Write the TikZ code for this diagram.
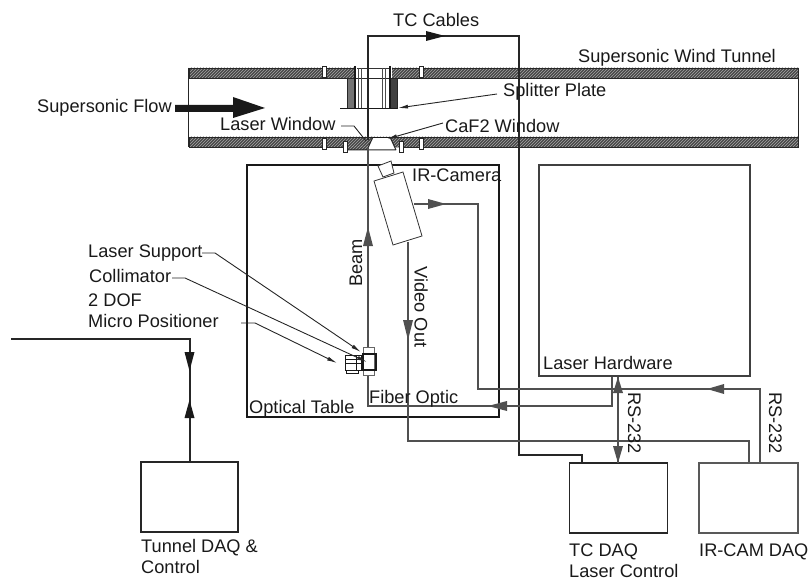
\documentclass[tikz,border=0pt]{standalone}
\usepackage{fontspec}
\setmainfont{Liberation Sans}
\usetikzlibrary{arrows.meta,patterns}
\definecolor{wire}{HTML}{505050}
\tikzset{
 x=1pt,y=-1pt,
 lbl/.style={inner sep=0pt,anchor=base west,font=\fontsize{18.2}{20}\selectfont,text=black!90},
 vlbl/.style={inner sep=0pt,rotate=-90,font=\fontsize{18.2}{20}\selectfont,text=black!90},
 boxk/.style={draw=black!75,line width=1.8pt,inner sep=0pt},
 wirel/.style={draw=wire,line width=2pt},
 darkwire/.style={draw=black!85,line width=2pt},
 wall/.style={draw=black!85,line width=.8pt,preaction={fill=black!72},pattern=north east lines,pattern color=black!35},
 bolt/.style={draw=black!85,fill=white,line width=.8pt,minimum width=4pt,minimum height=11pt,inner sep=0pt},
 lead/.style={draw=black!85,line width=.9pt,-{Latex[length=10pt,width=4pt]}},
 hd/.style={fill=wire},
 hdk/.style={fill=black!90},
}
\begin{document}
\begin{tikzpicture}
\useasboundingbox (0,0) rectangle (808,580);
% tunnel walls
\node[wall,minimum width=609pt,minimum height=10pt,inner sep=0pt] (topw) at (493.5,73) {};
\node[wall,minimum width=609pt,minimum height=10pt,inner sep=0pt] (botw) at (493.5,142) {};
\draw[black!85,line width=.8pt] (topw.north west) -- (botw.south west);
\draw[black!85,line width=.8pt] (topw.north east) -- (botw.south east);
% upper window
\fill[white] (355,67.5) rectangle (392,78.5);
\draw[black!80,line width=.8pt] (357,68) -- (390,68) (357,78) -- (390,78);
\fill[black!55] (347,78) rectangle (355,108);
\fill[black!75] (390,78) rectangle (397,108);
\draw[black!85,line width=.8pt] (347,78) rectangle (397,108);
\draw[black!70,line width=.8pt] (358,68) -- (358,108) (361,68) -- (361,108) (382,68) -- (382,108) (385,68) -- (385,108);
\draw[black!90,line width=1.4pt] (355,66) -- (355,109) (390,66) -- (390,109);
\draw[black!90,line width=1.8pt] (340,108.5) -- (397,108.5);
% lower window
\path[wall,draw=none] (348,147) rectangle (368,150);
\fill[white] (373,137) -- (390,137) -- (396,150) -- (367,150) -- cycle;
\fill[white] (390,147.5) -- (401,147.5) -- (401,151) -- (394,151) -- cycle;
\draw[black!85,line width=1pt] (373,137) -- (367,150) (390,137) -- (396,150) (348,150) -- (396,150);
\draw[black!90,line width=1.8pt] (373,137.5) -- (390,137.5);
% bolts
\foreach \bx/\by in {324.5/72,421/72,324.5/144,421/144,345/146.5,401/146.5}
 \node[bolt] at (\bx,\by) {};
% flow arrow
\fill[black!90] (175,105) -- (233,105) -- (233,97) -- (265,108) -- (233,118) -- (233,112) -- (175,112) -- cycle;
% boxes
\node[boxk,draw=black!90,line width=2pt,minimum width=252pt,minimum height=252pt] (table) at (373,291) {};
\node[boxk,minimum width=211pt,minimum height=211pt] (hw) at (644.5,270.5) {};
\node[boxk,draw=black!85,minimum width=97pt,minimum height=70pt] (tdaq) at (189.5,497) {};
\node[boxk,draw=black!85,minimum width=98pt,minimum height=70pt] (tcdaq) at (618.5,498) {};
\node[boxk,draw=black!65,minimum width=99pt,minimum height=70pt] (irdaq) at (748.5,498) {};
% camera
\draw[black!80,line width=.8pt,fill=white] (378,166) -- (391,161) -- (394,173) -- (383,177) -- cycle;
\draw[black!80,line width=.8pt,fill=white] (374,181) -- (403,172) -- (422,236) -- (393,245) -- cycle;
\coordinate (camout) at (414,204);
\coordinate (cambot) at (408,242);
% wires
\coordinate (tcb) at (368,140);
\coordinate (tct) at (368,36);
\coordinate (tcr) at (519,36);
\coordinate (tcd) at (519,455);
\coordinate (tce) at (582,455);
\draw[darkwire] (tcb) -- (tct) -- (tcr) -- (tcd) -- (tce) -- (tce |- tcdaq.north);
\fill[hdk] (426,31) -- (445,36) -- (426,41) -- cycle;
\coordinate (lsn) at (368,347);
\coordinate (wintop) at (368,147);
\draw[wirel] (lsn) -- (wintop);
\fill[hd] (363,246) -- (368,227) -- (373,246) -- cycle;
\coordinate (fa) at (368,406);
\coordinate (fb) at (612,406);
\coordinate (lsb) at (368,375);
\draw[wirel] (lsb) -- (fa) -- (fb) -- (fb |- hw.south);
\fill[hd] (488,406) -- (507,401) -- (507,411) -- cycle;
\coordinate (ra) at (478,204);
\coordinate (rb) at (478,389);
\coordinate (rc) at (760,389);
\draw[wirel] (camout) -- (ra) -- (rb) -- (rc) -- (rc |- irdaq.north);
\fill[hd] (428,199) -- (446,204) -- (428,209) -- cycle;
\fill[hd] (707,389) -- (724,384) -- (724,394) -- cycle;
\coordinate (va) at (408,441);
\coordinate (vb) at (749,441);
\draw[wirel] (cambot) -- (va) -- (vb) -- (vb |- irdaq.north);
\fill[hd] (403,320) -- (413,320) -- (408,340) -- cycle;
\draw[wirel] (618,377) -- (618,463);
\fill[hd] (618,377) -- (613,393) -- (623,393) -- cycle;
\fill[hd] (618,463) -- (613,446) -- (623,446) -- cycle;
\coordinate (lin) at (11,339);
\coordinate (lcor) at (189.5,339);
\draw[darkwire] (lin) -- (lcor) -- (tdaq.north);
\fill[hdk] (184.5,352) -- (194.5,352) -- (189.5,371) -- cycle;
\fill[hdk] (189.5,400) -- (184.5,418) -- (194.5,418) -- cycle;
% collimator
\node[draw=black!60,fill=white,line width=.8pt,minimum width=11pt,minimum height=28pt,inner sep=0pt] (lsup) at (368.5,361) {};
\node[draw=black!90,line width=1.1pt,minimum width=13pt,minimum height=16pt,inner sep=0pt] (coll) at (369.5,362) {};
\node[draw=black!90,line width=1pt,minimum width=16pt,minimum height=15pt,inner sep=0pt] (pos) at (353,362.5) {};
\draw[black!90,line width=.8pt] (345,359) -- (361,359) (345,363) -- (361,363) (346,370) rectangle (358,373) (356,355) -- (356,370);
% leaders
\coordinate (s1) at (497,94);
\coordinate (s2) at (398,108);
\draw[lead] (s1) -- (s2);
\coordinate (c1) at (443,123);
\coordinate (c2) at (387,139);
\draw[lead] (c1) -- (c2);
\draw[black!85,line width=.9pt] (341,126) -- (354,126) -- (366,141);
\draw[lead] (202,253) -- (215,253) -- (361,352);
\draw[lead] (172,278) -- (185,278) -- (367,362);
\draw[lead] (241,323) -- (255,323) -- (337,363);
% labels
\node[lbl] (ltc) at (393,27) {TC Cables};
\node[lbl] at (578,63) {Supersonic Wind Tunnel};
\node[lbl] at (37,113) {Supersonic Flow};
\node[lbl] at (503,97) {Splitter Plate};
\node[lbl] at (220,131) {Laser Window};
\node[lbl] at (445,133) {CaF2 Window};
\node[lbl] at (412,182) {IR-Camera};
\node[lbl] at (88,257) {Laser Support};
\node[lbl] at (89,282) {Collimator};
\node[lbl] at (88,306) {2 DOF};
\node[lbl] at (88,327) {Micro Positioner};
\node[lbl] at (249,413) {Optical Table};
\node[lbl] at (369,403) {Fiber Optic};
\node[lbl] at (543,369) {Laser Hardware};
\node[lbl] at (141,552) {Tunnel DAQ \&};
\node[lbl] at (141,573) {Control};
\node[lbl] at (569,556) {TC DAQ};
\node[lbl] at (569,577) {Laser Control};
\node[lbl] at (699,556) {IR-CAM DAQ};
\node[vlbl,rotate=180] at (356,263) {Beam};
\node[vlbl] at (421,307) {Video Out};
\node[vlbl] at (634.5,423) {RS-232};
\node[vlbl] at (775.5,423) {RS-232};
\end{tikzpicture}
\end{document}
